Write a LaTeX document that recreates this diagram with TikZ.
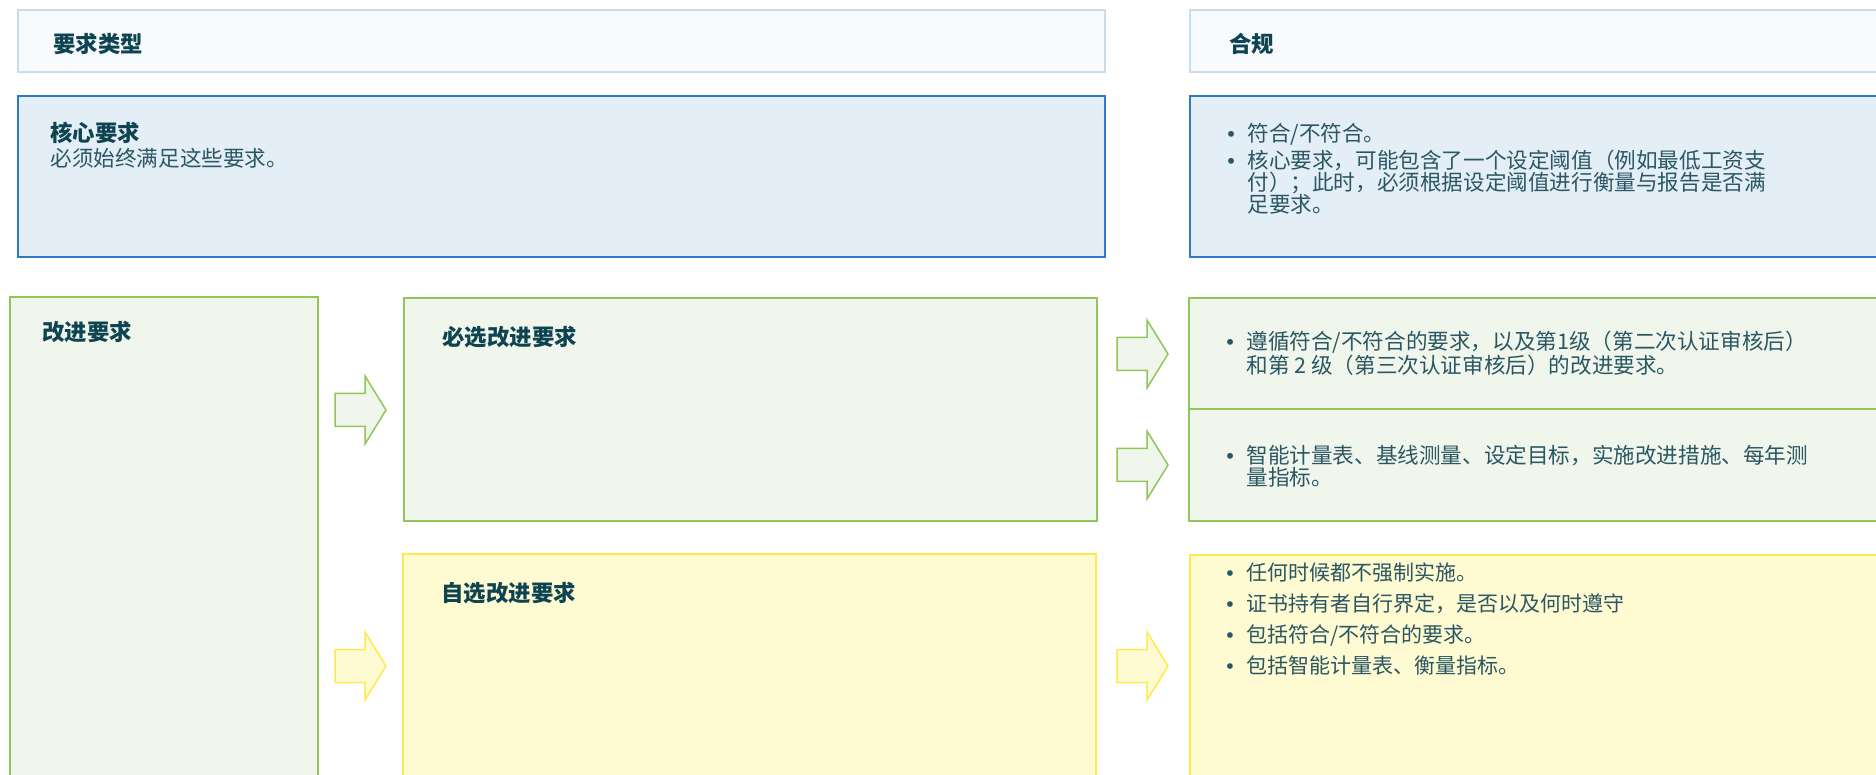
\documentclass[tikz,border=0pt]{standalone}
\usepackage{fontspec}
\setmainfont{Noto Sans CJK SC}
\newfontfamily\dotfont{Liberation Sans}
\usepackage{tikz}
\usetikzlibrary{arrows.meta,positioning,calc}
\definecolor{HeadTeal}{HTML}{0E4452}
\definecolor{BodyTeal}{HTML}{2A5763}
\definecolor{PaleFill}{HTML}{F7FBFD}
\definecolor{PaleLine}{HTML}{C8DDEE}
\definecolor{CoreFill}{HTML}{E4EEF6}
\definecolor{CoreLine}{HTML}{2C7BC6}
\definecolor{MintFill}{HTML}{F0F6EB}
\definecolor{MintLine}{HTML}{92C55B}
\definecolor{LemonFill}{HTML}{FEFAD2}
\definecolor{LemonLine}{HTML}{FEEA4C}

\newcommand\rowsof[1]{\vtop{\lineskiplimit=-20pt\halign{##\hfil\cr#1\crcr}}}
\newcommand\bpt[1]{\makebox[10pt][l]{\dotfont\textbullet}\rowsof{#1}}

\tikzset{
  headtxt/.style={anchor=base west,inner sep=0pt,text=HeadTeal,font=\fontsize{11.2}{13}\selectfont\bfseries},
  bodytxt/.style={anchor=base west,inner sep=0pt,text=BodyTeal,font=\fontsize{10.8}{10.8}\selectfont},
  pics/blockarrow/.style={code={
    \draw[pic actions] (0,-16.5) -- (30,-16.5) -- (30,-34) -- (51,0) -- (30,34) -- (30,16.5) -- (0,16.5) -- cycle;}}
}

\begin{document}
\begin{tikzpicture}[x=0.5pt,y=-0.5pt]
      \useasboundingbox (0,0) rectangle (1876,775);
      \clip (0,0) rectangle (1876,775);

      \draw[PaleLine,fill=PaleFill,line width=1pt] (18,10) rectangle (1105,72);
      \draw[PaleLine,fill=PaleFill,line width=1pt] (1190,10) rectangle (1890,72);
      \node[headtxt] (typehead) at (53,53) {要求类型};
      \node[headtxt] (comphead) at (1229,53) {合规};

      \draw[CoreLine,fill=CoreFill,line width=1pt] (18,96) rectangle (1105,257);
      \draw[CoreLine,fill=CoreFill,line width=1pt] (1190,96) rectangle (1890,257);
      \node[headtxt] (coretitle) at (50,142) {核心要求};
      \node[bodytxt] (coretext) at (50,167) {必须始终满足这些要求。};
      \node[bodytxt] (corept1) at (1227,142) {\bpt{符合/不符合。}};
      \node[bodytxt] (corept2) at (1227,169) {\bpt{核心要求，可能包含了一个设定阈值（例如最低工资支\cr
        付）；此时，必须根据设定阈值进行衡量与报告是否满\cr
        足要求。}};

      \draw[MintLine,fill=MintFill,line width=1pt] (10,297) rectangle (318,790);
      \node[headtxt] (imprtitle) at (42,341) {改进要求};

      \draw[MintLine,fill=MintFill,line width=1pt] (404,298) rectangle (1097,521);
      \node[headtxt] (mandtitle) at (442,346) {必选改进要求};
      \draw[MintLine,fill=MintFill,line width=1pt] (1189,298) rectangle (1890,521);
      \draw[MintLine,line width=1pt] (1189,409) -- (1890,409);
      \node[bodytxt,font=\fontsize{10.8}{12}\selectfont] (mandpt1) at (1226,350) {\bpt{遵循符合/不符合的要求，以及第1级（第二次认证审核后）\cr
        和第 2 级（第三次认证审核后）的改进要求。}};
      \node[bodytxt,font=\fontsize{10.8}{10.9}\selectfont] (mandpt2) at (1226,464) {\bpt{智能计量表、基线测量、设定目标，实施改进措施、每年测\cr
        量指标。}};

      \draw[LemonLine,fill=LemonFill,line width=1pt] (403,554) rectangle (1096,790);
      \node[headtxt] (opttitle) at (441,601) {自选改进要求};
      \draw[LemonLine,fill=LemonFill,line width=1pt] (1190,555) rectangle (1890,790);
      \node[bodytxt,font=\fontsize{10.5}{10.5}\selectfont] (optpt1) at (1226,581) {\bpt{任何时候都不强制实施。}};
      \node[bodytxt,font=\fontsize{10.5}{10.5}\selectfont] (optpt2) at (1226,611) {\bpt{证书持有者自行界定，是否以及何时遵守}};
      \node[bodytxt,font=\fontsize{10.5}{10.5}\selectfont] (optpt3) at (1226,642) {\bpt{包括符合/不符合的要求。}};
      \node[bodytxt,font=\fontsize{10.5}{10.5}\selectfont] (optpt4) at (1226,673) {\bpt{包括智能计量表、衡量指标。}};

      \pic[draw=MintLine,fill=MintFill,line width=0.75pt] at (335,410) {blockarrow};
      \pic[draw=LemonLine,fill=LemonFill,line width=0.75pt] at (335,666) {blockarrow};
      \pic[draw=MintLine,fill=MintFill,line width=0.75pt] at (1117,354) {blockarrow};
      \pic[draw=MintLine,fill=MintFill,line width=0.75pt] at (1117,465) {blockarrow};
      \pic[draw=LemonLine,fill=LemonFill,line width=0.75pt] at (1117,666) {blockarrow};
    \end{tikzpicture}
\end{document}
